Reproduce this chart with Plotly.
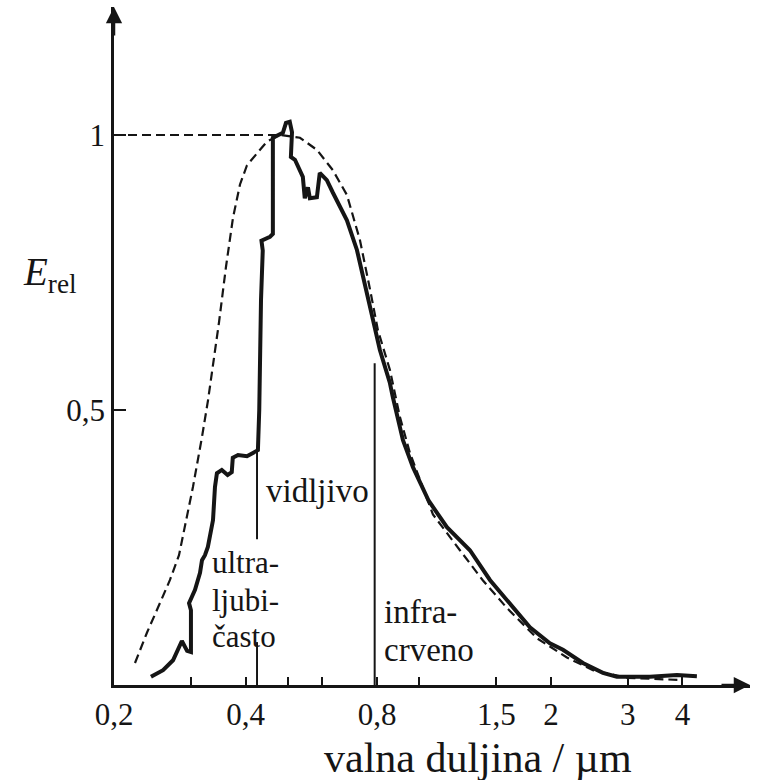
import numpy as np
import plotly.graph_objects as go

# --- data ---
spec_wl = [0.243, 0.259, 0.273, 0.280, 0.286, 0.294, 0.300, 0.300, 0.297, 0.3065,
           0.3147, 0.318, 0.323, 0.328, 0.337, 0.3405, 0.344, 0.353, 0.364, 0.372,
           0.374, 0.3845, 0.403, 0.416, 0.427, 0.430, 0.431, 0.434, 0.438, 0.435,
           0.455, 0.462, 0.462, 0.487, 0.495, 0.505, 0.511, 0.508, 0.519, 0.541,
           0.5466, 0.5558, 0.5615, 0.5826, 0.5915, 0.614, 0.634, 0.6825, 0.7195, 0.7505,
           0.783, 0.812, 0.856, 0.869, 0.917, 0.9665, 1.05, 1.156, 1.305, 1.45,
           1.611, 1.79, 1.989, 2.131, 2.367, 2.63, 2.831, 3.37, 3.886, 4.316]
spec_E = [0.015, 0.027, 0.045, 0.064, 0.080, 0.062, 0.060, 0.136, 0.149, 0.173,
          0.204, 0.227, 0.236, 0.251, 0.300, 0.360, 0.385, 0.391, 0.382, 0.387,
          0.413, 0.418, 0.416, 0.422, 0.427, 0.50, 0.60, 0.70, 0.79, 0.808,
          0.815, 0.82, 0.995, 1.004, 1.022, 1.024, 1.005, 0.960, 0.955, 0.924,
          0.885, 0.905, 0.885, 0.887, 0.931, 0.918, 0.895, 0.845, 0.791, 0.731,
          0.664, 0.609, 0.549, 0.524, 0.445, 0.396, 0.335, 0.287, 0.245, 0.191,
          0.149, 0.105, 0.076, 0.064, 0.040, 0.022, 0.015, 0.015, 0.018, 0.016]

bb_wl = [0.2234, 0.2379, 0.2548, 0.2686, 0.2817, 0.3032, 0.3180, 0.3283, 0.3479, 0.3608,
         0.3745, 0.3885, 0.4031, 0.4478, 0.4797, 0.5329, 0.5826, 0.6338, 0.6825, 0.7309,
         0.7705, 0.8037, 0.856, 0.9026, 0.9512, 1.074, 1.238, 1.398, 1.586, 1.858,
         2.176, 2.495, 2.985, 4.0]
bb_E = [0.040, 0.095, 0.149, 0.191, 0.236, 0.360, 0.451, 0.518, 0.660, 0.760,
        0.850, 0.910, 0.945, 0.988, 1.0, 0.995, 0.973, 0.936, 0.891, 0.809,
        0.72, 0.645, 0.573, 0.487, 0.422, 0.31, 0.245, 0.19, 0.14, 0.085,
        0.050, 0.027, 0.013, 0.009]

peak_line_wl = [0.2, 0.48]
peak_line_E = [1.0, 1.0]

visible_edge = 0.425
visible_line_E = [0.0, 0.078, None, 0.265, 0.427]
ir_edge = 0.79
ir_line_E = [0.0, 0.585]

x_tickvals = [0.2, 0.3, 0.4, 0.5, 0.6, 0.8, 1.0, 1.5, 2, 3, 4]
x_ticktext = ["0,2", "", "0,4", "", "", "0,8", "", "1,5", "2", "3", "4"]
y_tickvals = [0.5, 1.0]
y_ticktext = ["0,5", "1"]

x_range = [0.2, 5.71]
y_range = [0.0, 1.2327]

FONT = "Liberation Serif"
INK = "#151515"

fig = go.Figure()
fig.add_trace(go.Scatter(x=bb_wl, y=bb_E, mode="lines",
                         line=dict(color=INK, width=2.2, dash="9px,5px")))
fig.add_trace(go.Scatter(x=peak_line_wl, y=peak_line_E, mode="lines",
                         line=dict(color=INK, width=2.2, dash="9px,5px")))
fig.add_trace(go.Scatter(x=[visible_edge] * len(visible_line_E), y=visible_line_E,
                         mode="lines", line=dict(color=INK, width=2)))
fig.add_trace(go.Scatter(x=[ir_edge] * len(ir_line_E), y=ir_line_E,
                         mode="lines", line=dict(color=INK, width=2)))
fig.add_trace(go.Scatter(x=spec_wl, y=spec_E, mode="lines",
                         line=dict(color=INK, width=4)))

annotations = []
# axis arrowheads
annotations.append(dict(xref="paper", yref="paper", x=0, y=1.0, ax=0, ay=30,
                        showarrow=True, arrowhead=2, arrowsize=1.3, arrowwidth=2.5,
                        arrowcolor=INK, text=""))
annotations.append(dict(xref="paper", yref="paper", x=1.0, y=0, ax=-30, ay=0,
                        showarrow=True, arrowhead=2, arrowsize=1.3, arrowwidth=2.5,
                        arrowcolor=INK, text=""))
# labels
labels = [("vidljivo", 0.441, 0.353, 33), ("ultra-", 0.3318, 0.222, 31),
          ("ljubi-", 0.3318, 0.153, 31), ("často", 0.3318, 0.088, 31),
          ("infra-", 0.823, 0.133, 33), ("crveno", 0.823, 0.064, 33)]
for txt, lx, ly, fs in labels:
    annotations.append(dict(x=np.log10(lx), y=ly, xref="x", yref="y", text=txt,
                            showarrow=False, xanchor="left", yanchor="middle",
                            font=dict(family=FONT, size=fs, color=INK)))
annotations.append(dict(xref="paper", yref="paper", x=0.572, y=-0.108,
                        text="valna duljina / µm", showarrow=False,
                        xanchor="center", yanchor="middle",
                        font=dict(family=FONT, size=42, color=INK)))
annotations.append(dict(xref="paper", yref="paper", x=-0.147, y=0.605,
                        text="<i>E</i><sub>rel</sub>", showarrow=False,
                        xanchor="left", yanchor="middle",
                        font=dict(family=FONT, size=39, color=INK)))

fig.update_layout(
    width=767, height=780,
    margin=dict(l=114, r=17, t=7, b=95),
    paper_bgcolor="white", plot_bgcolor="white",
    showlegend=False,
    annotations=annotations,
    xaxis=dict(type="log", range=[np.log10(x_range[0]), np.log10(x_range[1])],
               showline=True, linewidth=2.5, linecolor=INK,
               ticks="inside", ticklen=8, tickwidth=2, tickcolor=INK,
               tickvals=x_tickvals, ticktext=x_ticktext,
               tickfont=dict(family=FONT, size=31, color=INK),
               showgrid=False, zeroline=False),
    yaxis=dict(range=y_range, showline=True, linewidth=2.5, linecolor=INK,
               ticks="inside", ticklen=12, tickwidth=2, tickcolor=INK,
               tickvals=y_tickvals, ticktext=y_ticktext,
               tickfont=dict(family=FONT, size=31, color=INK),
               showgrid=False, zeroline=False),
)

fig.write_html("out.html")
